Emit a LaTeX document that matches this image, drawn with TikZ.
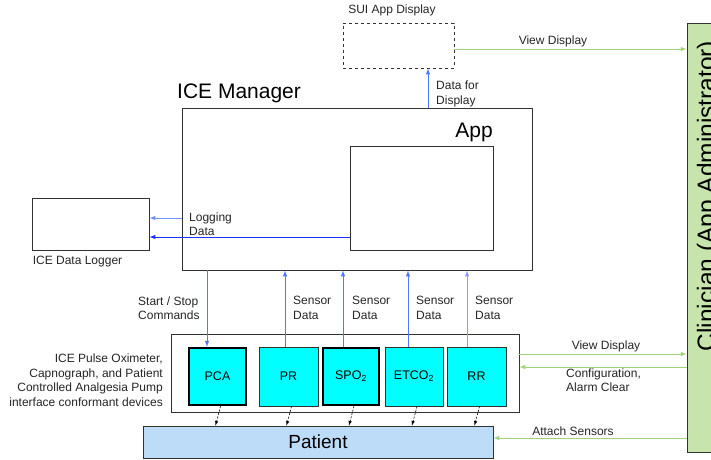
\documentclass[tikz,border=0pt]{standalone}
\usepackage{fontspec}
\setmainfont{Liberation Sans}
\usetikzlibrary{arrows,positioning,calc}
\definecolor{devcyan}{RGB}{0, 255, 255}
\definecolor{patblue}{RGB}{189, 220, 248}
\definecolor{clingreen}{RGB}{198, 228, 172}
\definecolor{linkgreen}{RGB}{160, 212, 120}
\definecolor{linkblue}{RGB}{80, 120, 255}
\definecolor{darkblue}{RGB}{30, 50, 255}
\definecolor{edge}{RGB}{50, 50, 50}

\begin{document}
\begin{tikzpicture}[x=1pt, y=-1pt,
    box/.style={draw=edge, line width=0.9pt, inner sep=0pt},
    dev/.style={box, fill=devcyan, font=\fontsize{12.5}{14}\selectfont},
    thickdev/.style={dev, draw=black, line width=2.4pt},
    lbl/.style={inner sep=0pt, font=\fontsize{12}{14.5}\selectfont, text=black!85},
    big/.style={inner sep=0pt, font=\fontsize{21}{24}\selectfont},
    arrow/.style={->, >=latex, line width=1pt, linkblue},
    garrow/.style={->, >=latex, line width=1pt, linkgreen},
    darrow/.style={->, >=latex, line width=0.6pt, dash pattern=on 2pt off 1.5pt}
]
    \clip (0,0) rectangle (711,459);
    \fill[white] (0,0) rectangle (711,459);

    % ICE manager, app and logger
    \node[box, minimum width=350pt, minimum height=162pt] (mgr) at (357,189) {};
    \node[big, anchor=west] (mgrlbl) at (177,93) {ICE Manager};
    \node[box, minimum width=143pt, minimum height=104pt] (app) at (421.5,198) {};
    \node[big, anchor=east] (applbl) at (493,132) {App};
    \node[box, minimum width=117pt, minimum height=52pt] (logger) at (90.5,224) {};
    \node[lbl] (loggerlbl) at (77.5,262) {ICE Data Logger};

    % SUI display
    \node[box, dashed, minimum width=111pt, minimum height=45pt] (sui) at (398.5,45.5) {};
    \node[lbl] (suilbl) at (392,10) {SUI App Display};

    % devices
    \node[box, minimum width=348pt, minimum height=78pt] (group) at (345,373) {};
    \node[lbl, align=right, anchor=east] (grouplbl) at (163,380) {ICE Pulse Oximeter,\\Capnograph, and Patient\\Controlled Analgesia Pump\\interface conformant devices};
    \node[thickdev, minimum width=57pt, minimum height=57pt] (pca) at (217.5,376.5) {PCA};
    \node[dev, minimum width=59pt, minimum height=59pt] (pr) at (288.5,376.5) {PR};
    \node[thickdev, minimum width=56pt, minimum height=57pt] (spo) at (351,376.5) {SPO\textsubscript{2}};
    \node[dev, minimum width=58pt, minimum height=59pt] (etco) at (414,376.5) {ETCO\textsubscript{2}};
    \node[dev, minimum width=59pt, minimum height=59pt] (rr) at (476.5,376.5) {RR};

    % patient and clinician
    \node[box, fill=patblue, minimum width=350pt, minimum height=32pt, font=\fontsize{19}{22}\selectfont] (patient) at (318,442) {Patient};
    \node[box, fill=clingreen, minimum width=50pt, minimum height=429pt] (clin) at (712,237.5) {};
    \node[inner sep=0pt, rotate=90, anchor=base, font=\fontsize{24.5}{28}\selectfont] (clinlbl) at (714.5,196) {Clinician (App Administrator)};

    % blue links
    \draw[arrow] (mgr.north -| sui.south) ++(29.5,0) coordinate (dtop) -- (dtop |- sui.south);
    \node[lbl, align=left, anchor=west] (dlbl) at (436,94) {Data for\\Display};
    \draw[arrow, linkblue!80] (mgr.west |- 0,218) -- (logger.east |- 0,218);
    \draw[arrow, darkblue] (app.west |- 0,237) -- (logger.east |- 0,237);
    \node[lbl, align=left, anchor=west] (loglbl) at (189,224) {Logging\\Data};
    \draw[arrow] ([xshift=-10.5pt]pca.north |- mgr.south) -- ([xshift=-10.5pt]pca.north);
    \node[lbl, align=left, anchor=west] (cmdlbl) at (138,308) {Start / Stop\\Commands};
    \draw[arrow] ([xshift=-3.5pt]pr.north) -- ([xshift=-3.5pt]pr.north |- mgr.south);
    \draw[arrow] ([xshift=-8pt]spo.north) -- ([xshift=-8pt]spo.north |- mgr.south);
    \draw[arrow] ([xshift=-6pt]etco.north) -- ([xshift=-6pt]etco.north |- mgr.south);
    \draw[arrow, linkblue!70] ([xshift=-9.5pt]rr.north) -- ([xshift=-9.5pt]rr.north |- mgr.south);
    \node[lbl, align=left, anchor=west] (s1) at (293,308) {Sensor\\Data};
    \node[lbl, align=left, anchor=west] (s2) at (352,308) {Sensor\\Data};
    \node[lbl, align=left, anchor=west] (s3) at (416,308) {Sensor\\Data};
    \node[lbl, align=left, anchor=west] (s4) at (475,308) {Sensor\\Data};

    % devices to patient
    \draw[darrow] ($(pca.south)+(3,0)$) -- ($(pca.south |- patient.north)+(-2,0)$);
    \draw[darrow] ($(pr.south)+(3,0)$) -- ($(pr.south |- patient.north)+(-2,0)$);
    \draw[darrow] ($(spo.south)+(3,0)$) -- ($(spo.south |- patient.north)+(-2,0)$);
    \draw[darrow] ($(etco.south)+(3,0)$) -- ($(etco.south |- patient.north)+(-2,0)$);
    \draw[darrow] ($(rr.south)+(3,0)$) -- ($(rr.south |- patient.north)+(-2,0)$);

    % green links
    \draw[garrow] (sui.east |- 0,49) -- (clin.west |- 0,49);
    \node[lbl] (v1) at (553,41) {View Display};
    \draw[garrow] (group.east |- 0,354) -- (clin.west |- 0,354);
    \node[lbl] (v2) at (606,346) {View Display};
    \draw[garrow] (clin.west |- 0,367) -- (group.east |- 0,367);
    \node[lbl, align=left, anchor=west] (cfg) at (566,380) {Configuration,\\Alarm Clear};
    \draw[garrow] (clin.west |- 0,438) -- (patient.east |- 0,438);
    \node[lbl] (att) at (573,431) {Attach Sensors};
\end{tikzpicture}
\end{document}
